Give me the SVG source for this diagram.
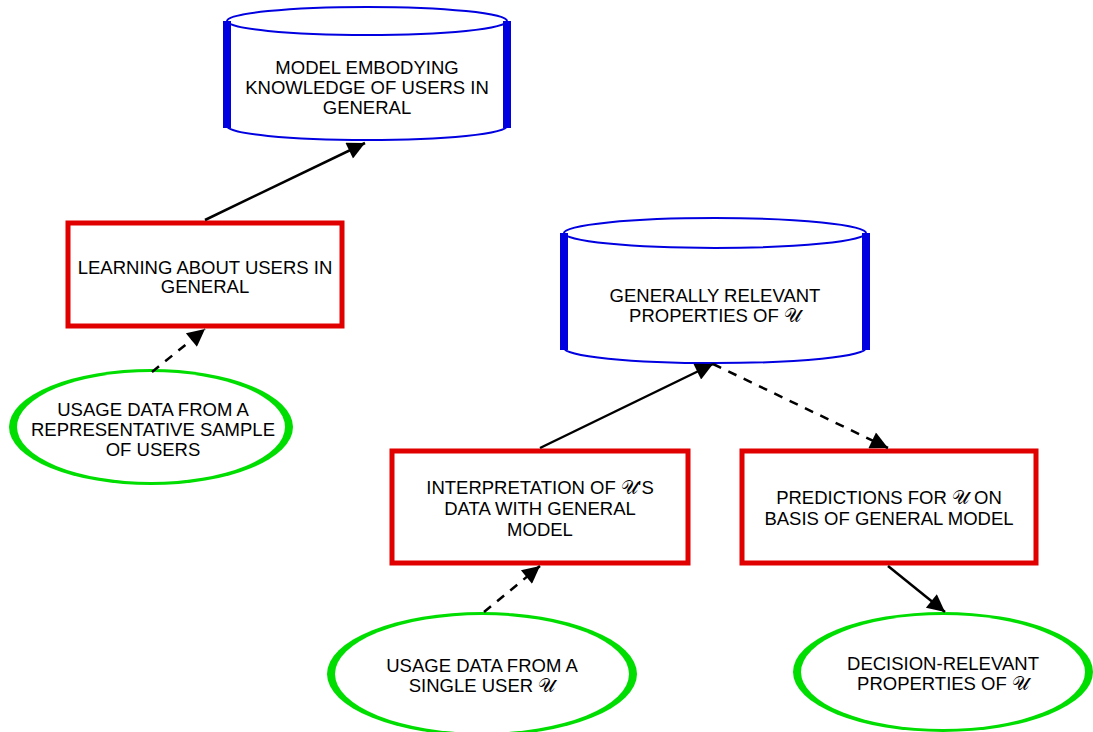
<svg xmlns="http://www.w3.org/2000/svg" width="1093" height="732" viewBox="0 0 1093 732">
<defs>
<style>
.t{font-family:"Liberation Sans",Arial,sans-serif;font-size:18.5px;fill:#000;text-anchor:middle}
.u{font-family:"DejaVu Serif","Liberation Serif",serif;font-size:19px}
.box{fill:#fff;stroke:#e00000;stroke-width:5}
.cyl{fill:#fff;stroke:#0000e0;stroke-width:2}
.side{stroke:#0000e0;stroke-width:8}
.eo{fill:#00dd00}
.ei{fill:#fff}
.c{stroke:#000;stroke-width:2.5;fill:none}
.d{stroke-dasharray:9,8}
</style>
<marker id="ah" viewBox="0 0 10 10" refX="10" refY="5" markerWidth="8" markerHeight="7" markerUnits="strokeWidth" orient="auto">
<path d="M0,0 L10,5 L0,10 z" fill="#000"/>
</marker>
</defs>
<rect width="1093" height="732" fill="#fff"/>

<g id="model">
<path class="cyl" d="M227,21 V126 A140,14 0 0 0 507,126 V21"/>
<ellipse class="cyl" cx="367" cy="21" rx="140" ry="14"/>
<line class="side" x1="227" y1="21" x2="227" y2="128"/>
<line class="side" x1="507" y1="21" x2="507" y2="128"/>
<text class="t" x="367" y="74">MODEL EMBODYING</text>
<text class="t" x="367" y="94">KNOWLEDGE OF USERS IN</text>
<text class="t" x="367" y="114">GENERAL</text>
</g>

<g id="learning">
<rect class="box" x="68" y="223" width="274" height="103"/>
<text class="t" x="205" y="274">LEARNING ABOUT USERS IN</text>
<text class="t" x="205" y="293">GENERAL</text>
</g>

<g id="sample">
<ellipse class="eo" cx="151" cy="427" rx="142" ry="58"/>
<ellipse class="ei" cx="151" cy="427" rx="134" ry="55"/>
<text class="t" x="153" y="416">USAGE DATA FROM A</text>
<text class="t" x="153" y="436">REPRESENTATIVE SAMPLE</text>
<text class="t" x="153" y="456">OF USERS</text>
</g>

<g id="relevant">
<path class="cyl" d="M564,233 V348 A150,15 0 0 0 866,348 V233"/>
<ellipse class="cyl" cx="715" cy="233" rx="151" ry="15"/>
<line class="side" x1="564" y1="233" x2="564" y2="350"/>
<line class="side" x1="866" y1="233" x2="866" y2="350"/>
<text class="t" x="715" y="302">GENERALLY RELEVANT</text>
<text class="t" x="715" y="322">PROPERTIES OF <tspan class="u">𝒰</tspan></text>
</g>

<g id="interpretation">
<rect class="box" x="392" y="451" width="296" height="112"/>
<text class="t" x="540" y="494">INTERPRETATION OF <tspan class="u">𝒰</tspan>'S</text>
<text class="t" x="540" y="515">DATA WITH GENERAL</text>
<text class="t" x="540" y="536">MODEL</text>
</g>

<g id="predictions">
<rect class="box" x="742" y="451" width="294" height="112"/>
<text class="t" x="889" y="504">PREDICTIONS FOR <tspan class="u">𝒰</tspan> ON</text>
<text class="t" x="889" y="525">BASIS OF GENERAL MODEL</text>
</g>

<g id="single">
<ellipse class="eo" cx="482" cy="674" rx="155" ry="62"/>
<ellipse class="ei" cx="482" cy="674" rx="147" ry="59"/>
<text class="t" x="482" y="672">USAGE DATA FROM A</text>
<text class="t" x="482" y="692">SINGLE USER <tspan class="u">𝒰</tspan></text>
</g>

<g id="decision">
<ellipse class="eo" cx="943" cy="672" rx="150" ry="60"/>
<ellipse class="ei" cx="943" cy="672" rx="142" ry="57"/>
<text class="t" x="943" y="670">DECISION-RELEVANT</text>
<text class="t" x="943" y="690">PROPERTIES OF <tspan class="u">𝒰</tspan></text>
</g>

<g id="connectors">
<line class="c" x1="205" y1="220" x2="365" y2="143" marker-end="url(#ah)"/>
<line class="c d" x1="152" y1="372" x2="205" y2="329" marker-end="url(#ah)"/>
<line class="c" x1="540" y1="448" x2="713" y2="364" marker-end="url(#ah)"/>
<line class="c d" x1="713" y1="364" x2="888" y2="448" marker-end="url(#ah)"/>
<line class="c d" x1="484" y1="612" x2="540" y2="566" marker-end="url(#ah)"/>
<line class="c" x1="888" y1="566" x2="945" y2="612" marker-end="url(#ah)"/>
</g>
</svg>
